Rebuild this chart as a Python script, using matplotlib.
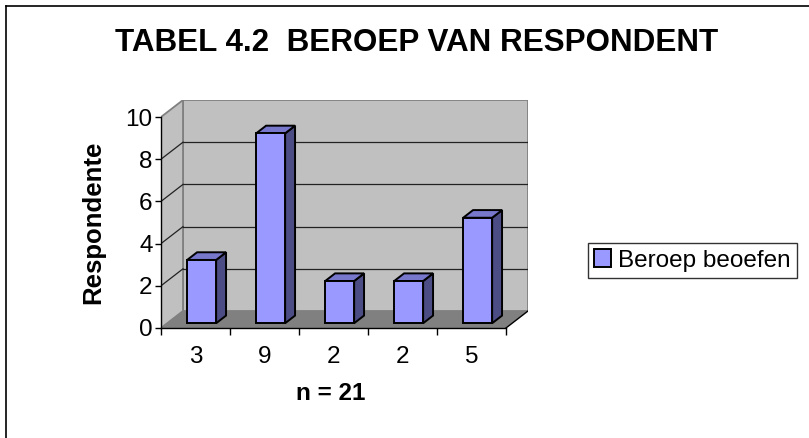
import matplotlib
matplotlib.use("Agg")
import matplotlib.pyplot as plt
from matplotlib.patches import Polygon, Patch
from matplotlib.lines import Line2D

plt.rcParams['font.family'] = ['Liberation Sans', 'DejaVu Sans']

# data
categories = ['3', '9', '2', '2', '5']
values = [3, 9, 2, 2, 5]
y_ticks = [0, 2, 4, 6, 8, 10]
series_name = 'Beroep beoefen'
title = 'TABEL 4.2  BEROEP VAN RESPONDENT'
y_title = 'Respondente'
x_title = 'n = 21'

# 3d look (depth offset in data units)
DX, DY = 0.319, 0.806
F0, F1 = 0.28, 0.73      # bar front/back depth fraction
BAR_W = 0.42
WALL = '#C0C0C0'
FLOOR = '#808080'
FRONT, SIDE, TOP = '#9999FF', '#4D4D85', '#7777CC'

W, H = 809, 438
fig = plt.figure(figsize=(W / 100, H / 100), dpi=100)
n = len(values)
ymax = y_ticks[-1]
ax = fig.add_axes([161 / W, (H - 328) / H, 367 / W, 228 / H])
ax.set_xlim(0, n + DX)
ax.set_ylim(0, ymax + DY)
ax.patch.set_visible(False)

# walls and floor
ax.add_patch(Polygon([(DX, DY), (n + DX, DY), (n + DX, ymax + DY), (DX, ymax + DY)],
                     closed=True, fc=WALL, ec=FLOOR, lw=1.3, zorder=0))
ax.add_patch(Polygon([(0, 0), (0, ymax), (DX, ymax + DY), (DX, DY)],
                     closed=True, fc=WALL, ec=FLOOR, lw=1.3, zorder=0))
ax.add_patch(Polygon([(0, 0), (n, 0), (n + DX, DY), (DX, DY)],
                     closed=True, fc=FLOOR, ec='none', zorder=0))
ax.plot([n, n + DX], [0, DY], color='black', lw=1, zorder=1)

# gridlines on back and side wall
for t in y_ticks[1:-1]:
    ax.plot([DX, n + DX], [t + DY, t + DY], color='#222222', lw=0.9, zorder=1)
    ax.plot([0, DX], [t, t + DY], color='#222222', lw=0.9, zorder=1)

# bars
for i, v in enumerate(values):
    cx = i + 0.5 + F0 * DX
    x0, x1 = cx - BAR_W / 2, cx + BAR_W / 2
    b0 = F0 * DY
    ddx, ddy = (F1 - F0) * DX, (F1 - F0) * DY
    kw = dict(closed=True, ec='black', lw=1.4, joinstyle='miter', zorder=3)
    ax.add_patch(Polygon([(x1, b0), (x1 + ddx, b0 + ddy), (x1 + ddx, b0 + ddy + v), (x1, b0 + v)],
                         fc=SIDE, **kw))
    ax.add_patch(Polygon([(x0, b0 + v), (x1, b0 + v), (x1 + ddx, b0 + v + ddy), (x0 + ddx, b0 + v + ddy)],
                         fc=TOP, **kw))
    ax.add_patch(Polygon([(x0, b0), (x1, b0), (x1, b0 + v), (x0, b0 + v)],
                         fc=FRONT, **kw))

# axes
for s in ['top', 'right']:
    ax.spines[s].set_visible(False)
ax.spines['left'].set_bounds(0, ymax)
ax.spines['bottom'].set_bounds(0, n)
for s in ['left', 'bottom']:
    ax.spines[s].set_color('black')
    ax.spines[s].set_linewidth(1)
    ax.spines[s].set_zorder(4)

ax.set_yticks(y_ticks)
ax.tick_params(axis='y', direction='out', length=4, width=1, labelsize=17.5, pad=2)
ax.set_xticks(range(n + 1))
ax.set_xticklabels([])
ax.set_xticks([i + 0.5 for i in range(n)], minor=True)
ax.set_xticklabels(categories, minor=True)
ax.tick_params(axis='x', which='major', direction='out', length=5, width=1)
ax.tick_params(axis='x', which='minor', length=0, labelsize=17.5, pad=13)

ax.set_ylabel(y_title, fontsize=18.5, fontweight='bold', va='center')
ax.yaxis.set_label_coords(-0.185, 0.4627)
ax.set_xlabel(x_title, fontsize=17.5, fontweight='bold', va='center')
ax.xaxis.set_label_coords(0.463, -0.289)

fig.text(417 / W, 1 - 43 / H, title, fontsize=22.6, fontweight='bold',
         ha='center', va='center')

leg = fig.legend(handles=[Patch(fc=FRONT, ec='black', lw=1.4, label=series_name)],
                 loc='center left', bbox_to_anchor=(588 / W, 1 - 260.5 / H),
                 fontsize=17.5, frameon=True, fancybox=False, handlelength=0.7,
                 handleheight=0.7, handletextpad=0.3, borderpad=0.25, borderaxespad=0)
leg.get_frame().set_edgecolor('black')
leg.get_frame().set_linewidth(1)

# chart border (left and top edges visible)
fig.add_artist(Line2D([6 / W, 6 / W], [0, 1 - 6 / H], color='black', lw=1.2))
fig.add_artist(Line2D([6 / W, 1], [1 - 6 / H, 1 - 6 / H], color='black', lw=1.2))

fig.savefig('out.png', dpi=100)
